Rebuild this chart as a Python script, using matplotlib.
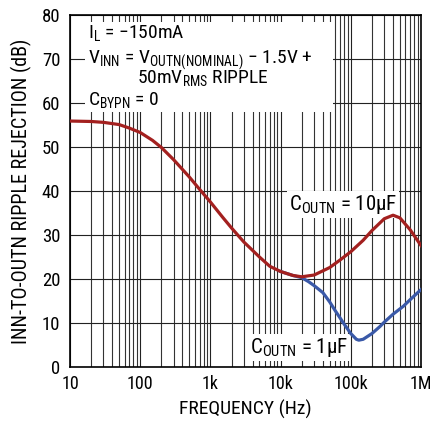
"""
Ripple rejection vs frequency for INN-to-OUTN, two output capacitors.
"""

import matplotlib.pyplot as plt
from matplotlib.patches import Rectangle
from matplotlib.ticker import FixedLocator, LogLocator, NullFormatter

plt.rcParams['font.family'] = ['Roboto Condensed', 'DejaVu Sans']
plt.rcParams['mathtext.fontset'] = 'custom'
plt.rcParams['mathtext.rm'] = 'Roboto Condensed'

# Data
freq_10u = [10, 20, 30, 50, 70, 100, 150, 200, 300, 500, 700, 1000, 1500, 2000,
            3000, 5000, 7000, 10000, 15000, 20000, 30000, 50000, 70000, 100000,
            150000, 200000, 300000, 400000, 500000, 700000, 1000000]
rej_10u = [55.9, 55.8, 55.6, 55.1, 54.3, 53.3, 51.5, 49.9, 47.1, 43.2, 40.4, 37.5,
           34.0, 31.6, 28.4, 25.0, 22.9, 21.7, 20.8, 20.5, 20.9, 22.6, 24.3, 26.2,
           28.8, 31.0, 33.7, 34.5, 33.9, 31.2, 27.6]

freq_1u = [10000, 15000, 20000, 25000, 30000, 40000, 50000, 60000, 70000, 80000,
           100000, 120000, 130000, 150000, 200000, 260000, 300000, 400000, 560000,
           700000, 1000000]
rej_1u = [21.7, 20.8, 20.3, 19.4, 18.5, 16.9, 14.8, 12.8, 11.2, 9.8,
          7.6, 6.3, 6.1, 6.3, 7.6, 9.2, 10.2, 12.0, 13.8, 15.3, 17.6]

xticks = [10, 100, 1e3, 1e4, 1e5, 1e6]
xticklabels = ["10", "100", "1k", "10k", "100k", "1M"]
yticks = [0, 10, 20, 30, 40, 50, 60, 70, 80]

red = "#a3201f"
blue = "#3a59a8"
fs = 13

fig = plt.figure(figsize=(4.31, 4.21), dpi=100)
ax = fig.add_axes([70/431, 1 - 367/421, 351/431, 352/421])

ax.set_xscale("log")
ax.set_xlim(10, 1e6)
ax.set_ylim(0, 80)
ax.xaxis.set_major_locator(FixedLocator(xticks))
ax.set_xticklabels(xticklabels)
ax.xaxis.set_minor_locator(LogLocator(base=10, subs=range(2, 10)))
ax.xaxis.set_minor_formatter(NullFormatter())
ax.set_yticks(yticks)
ax.tick_params(which="both", length=0, labelsize=fs)
ax.tick_params(axis="y", pad=7, labelsize=13.5)
ax.tick_params(axis="x", pad=6)

ax.set_axisbelow(True)
ax.grid(which="major", color="#222222", linewidth=0.8)
ax.grid(which="minor", axis="x", color="#333333", linewidth=0.8)
for s in ax.spines.values():
    s.set_linewidth(1.2)

# white box behind the conditions text
ax.add_patch(Rectangle((16.4, 58.0), 55700 - 16.4, 78.5 - 58.0,
                       facecolor="white", edgecolor="none", zorder=1))

ax.plot(freq_1u, rej_1u, color=blue, linewidth=2.3, zorder=3)
ax.plot(freq_10u, rej_10u, color=red, linewidth=2.3, zorder=4)

tx = dict(fontsize=14, zorder=5, va="baseline")
ax.text(18, 74.5, r"I$_\mathregular{L}$ = −150mA", **tx)
ax.text(18, 69.0, r"V$_\mathregular{INN}$ = V$_\mathregular{OUTN(NOMINAL)}$ − 1.5V +", **tx)
ax.text(90, 64.4, r"50mV$_\mathregular{RMS}$ RIPPLE", **tx)
ax.text(18, 59.4, r"C$_\mathregular{BYPN}$ = 0", **tx)

box = dict(facecolor="white", edgecolor="none", pad=1.5)
lab = dict(fontsize=15, zorder=2.5, va="baseline", bbox=box)
ax.text(1.32e4, 35.7, r"C$_\mathregular{OUTN}$ = 10µF", **lab)
ax.text(3.66e3, 3.2, r"C$_\mathregular{OUTN}$ = 1µF", **lab)

ax.set_xlabel("FREQUENCY (Hz)", fontsize=14, labelpad=5)
ax.set_ylabel("INN-TO-OUTN RIPPLE REJECTION (dB)", fontsize=14.5, labelpad=7)

fig.savefig("out.png", dpi=100)
